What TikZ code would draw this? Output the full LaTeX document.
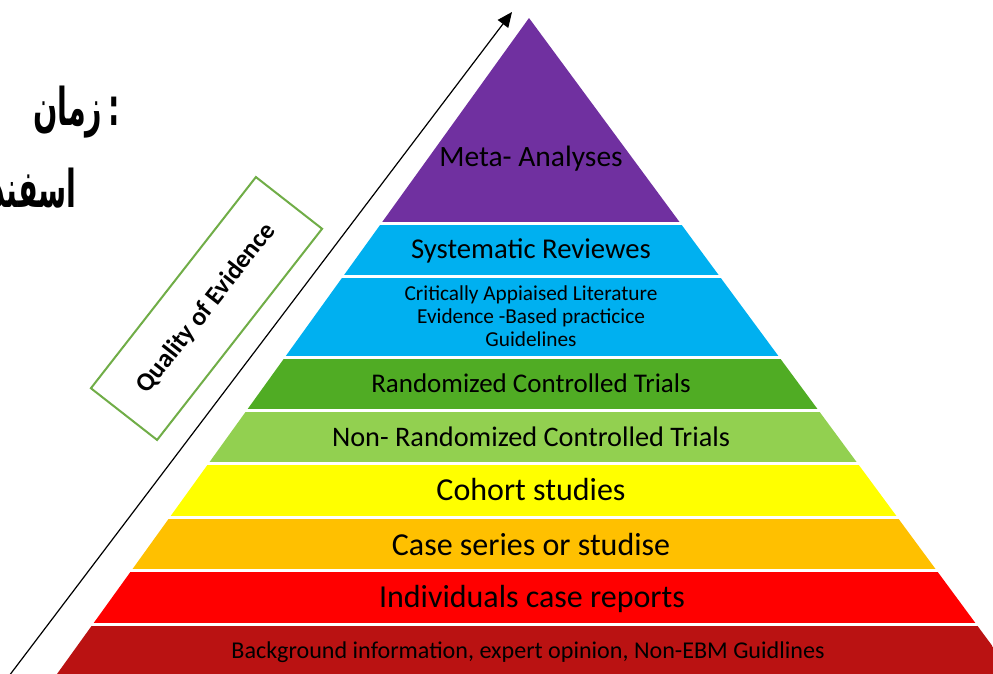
\documentclass[tikz,border=0pt]{standalone}
\usepackage{fontspec}
\setmainfont{Carlito}
\newfontfamily\arabicfont[Script=Arabic, FakeStretch=0.55]{DejaVu Sans}
\TeXXeTstate=1
\usetikzlibrary{arrows.meta}

\definecolor{metapurple}{HTML}{7030A0}
\definecolor{reviewcyan}{HTML}{00B0F0}
\definecolor{rctgreen}{RGB}{80,172,36}
\definecolor{nrctgreen}{HTML}{92D050}
\definecolor{cohortyellow}{HTML}{FFFF00}
\definecolor{caseorange}{HTML}{FFC000}
\definecolor{reportred}{HTML}{FF0000}
\definecolor{basered}{RGB}{186,18,18}
\definecolor{boxgreen}{HTML}{70AD47}

\tikzset{
  layertext/.style={anchor=base, inner sep=0pt, text=black},
  persiantext/.style={anchor=base east, inner sep=0pt, font=\arabicfont\bfseries\fontsize{52}{60}\selectfont},
}

\begin{document}
\begin{tikzpicture}[x=1pt, y=-1pt]
\useasboundingbox (0,0) rectangle (993,674);

% date section
\node[persiantext] (datelabel) at (120,126) {\beginR زمان\endR\hspace{6pt}:};
\node[persiantext] (monthlabel) at (77,207) {\beginR اسفند\endR};

% pyramid section
\begin{scope}
\clip (529,18) -- (57,674) -- (1013,674) -- cycle;
\fill[metapurple] (0,18) rectangle (993,222);
\fill[reviewcyan] (0,225) rectangle (993,275);
\fill[reviewcyan] (0,278) rectangle (993,356);
\fill[rctgreen] (0,359) rectangle (993,409);
\fill[nrctgreen] (0,412) rectangle (993,462);
\fill[cohortyellow] (0,465) rectangle (993,516);
\fill[caseorange] (0,519) rectangle (993,569);
\fill[reportred] (0,572) rectangle (993,623);
\fill[basered] (0,626) rectangle (993,680);
\end{scope}

% layer labels
\node[layertext, font=\fontsize{29.5}{35}\selectfont] (metaanalyses) at (531,167) {Meta- Analyses};
\node[layertext, font=\fontsize{28.7}{34}\selectfont] (sysreviews) at (531,258) {Systematic Reviewes};
\node[layertext, font=\fontsize{21.3}{25}\selectfont] (critline1) at (531,300) {Critically Appiaised Literature};
\node[layertext, font=\fontsize{21.3}{25}\selectfont] (critline2) at (531,323) {Evidence -Based practicice};
\node[layertext, font=\fontsize{21.3}{25}\selectfont] (critline3) at (531,346) {Guidelines};
\node[layertext, font=\fontsize{27}{33}\selectfont] (rcts) at (531,392) {Randomized Controlled Trials};
\node[layertext, font=\fontsize{28.3}{34}\selectfont] (nonrcts) at (531,446) {Non- Randomized Controlled Trials};
\node[layertext, font=\fontsize{32}{38}\selectfont] (cohort) at (531,500) {Cohort studies};
\node[layertext, font=\fontsize{32}{38}\selectfont] (caseseries) at (531,555) {Case series or studise};
\node[layertext, font=\fontsize{32}{38}\selectfont] (casereports) at (532,607) {Individuals case reports};
\node[layertext, font=\fontsize{24.1}{29}\selectfont] (background) at (528,658) {Background information, expert opinion, Non-EBM Guidlines};

% quality of evidence section
\coordinate (qualitylow) at (9,676);
\coordinate (qualityhigh) at (512,12);
\draw[line width=1.2pt, -{Triangle[length=15pt,width=13pt]}] (qualitylow) -- (qualityhigh);
\node[draw=boxgreen, line width=2pt, fill=white, rotate=52, minimum width=268pt, minimum height=84pt,
  font=\bfseries\fontsize{26}{31}\selectfont] (qualitybox) at (206.5,308.5) {Quality of Evidence};

\end{tikzpicture}
\end{document}
